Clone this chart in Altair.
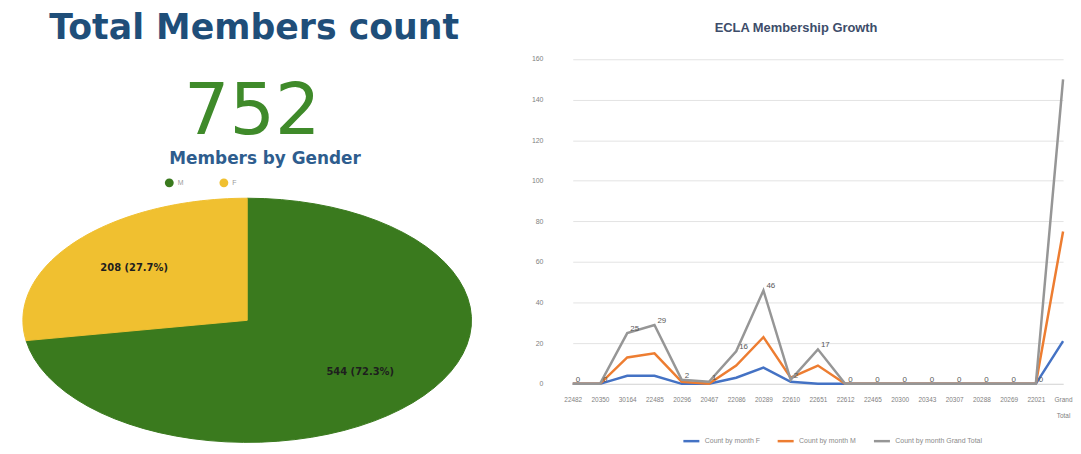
import altair as alt
import pandas as pd

# ---------------- data ----------------
genders = ["M", "F"]
gender_counts = [544, 208]
gender_colors = ["#3a7a1e", "#f0c030"]

months = ["22482", "20350", "30164", "22485", "20296", "20467", "22086", "20289",
          "22610", "22651", "22612", "22465", "20300", "20343", "20307", "20288",
          "20269", "22021", "Grand Total"]
count_f = [0, 0, 4, 4, 0, 0, 3, 8, 1, 0, 0, 0, 0, 0, 0, 0, 0, 0, 21]
count_m = [0, 0, 13, 15, 1, 0, 9, 23, 3, 9, 0, 0, 0, 0, 0, 0, 0, 0, 75]
count_total = [0, 0, 25, 29, 2, 1, 16, 46, 2, 17, 0, 0, 0, 0, 0, 0, 0, 0, 150]
series_names = ["Count by month F", "Count by month M", "Count by month Grand Total"]
series_colors = ["#4472c4", "#ed7d31", "#969696"]
y_ticks = [0, 20, 40, 60, 80, 100, 120, 140, 160]

# ---------------- left panel ----------------
W_L, H_L = 520, 438
pie_df = pd.DataFrame({"gender": genders, "count": gender_counts,
                       "idx": list(range(len(genders)))})

xs = alt.Scale(domain=[-1, 1], range=[15, 467], nice=False, zero=False)
ys = alt.Scale(domain=[-1, 1], range=[436, 190], nice=False, zero=False)
fill_scale = alt.Scale(domain=genders, range=gender_colors)

pie_base = (
    alt.Chart(pie_df)
    .transform_joinaggregate(total="sum(count)")
    .transform_window(cum="sum(count)", sort=[alt.SortField("idx", order="ascending")],
                      frame=[None, 0])
    .transform_calculate(f0="(datum.cum - datum.count) / datum.total",
                         f1="datum.cum / datum.total")
)

wedges = (
    pie_base
    .transform_calculate(k="sequence(0, 62)")
    .transform_flatten(["k"])
    .transform_calculate(
        a="(datum.k == 0 || datum.k == 61) ? 0 : 2*PI*(datum.f0 + (datum.f1 - datum.f0)*(datum.k-1)/59)",
        r="(datum.k == 0 || datum.k == 61) ? 0 : 1",
    )
    .transform_calculate(px="datum.r*sin(datum.a)", py="datum.r*cos(datum.a)")
    .mark_line(strokeWidth=1)
    .encode(
        x=alt.X("px:Q", scale=xs, axis=None),
        y=alt.Y("py:Q", scale=ys, axis=None),
        order=alt.Order("k:Q"),
        detail="gender:N",
        fill=alt.Fill("gender:N", scale=fill_scale,
                      legend=alt.Legend(orient="none", legendX=158, legendY=170,
                                        direction="horizontal", title=None,
                                        symbolType="circle", symbolSize=80,
                                        symbolStrokeWidth=0, labelFontSize=7,
                                        labelColor="#9a9a9a", columnPadding=36)),
        stroke=alt.Stroke("gender:N", scale=fill_scale, legend=None),
    )
)

pie_labels = (
    pie_base
    .transform_calculate(
        m="PI*(datum.f0 + datum.f1)",
        lab="format(datum.count, 'd') + ' (' + format(datum.count/datum.total, '.1%') + ')'",
    )
    .transform_calculate(px="0.66*sin(datum.m)", py="0.66*cos(datum.m)")
    .mark_text(font="DejaVu Sans", fontWeight="bold", fontSize=10, color="#1e1e1e")
    .encode(x=alt.X("px:Q", scale=xs, axis=None),
            y=alt.Y("py:Q", scale=ys, axis=None),
            text="lab:N")
)

big_number = (
    alt.Chart(pie_df)
    .transform_aggregate(total="sum(count)")
    .mark_text(font="DejaVu Sans", fontSize=72, color="#3f8a2a", baseline="alphabetic")
    .encode(x=alt.value(246), y=alt.value(125), text="total:Q")
)

title_df = pd.DataFrame({"t": ["Total Members count"]})
main_title = alt.Chart(title_df).mark_text(
    font="DejaVu Sans", fontWeight="bold", fontSize=35, color="#1f4e79", baseline="alphabetic"
).encode(x=alt.value(248), y=alt.value(30), text="t:N")

sub_df = pd.DataFrame({"t": ["Members by Gender"]})
sub_title = alt.Chart(sub_df).mark_text(
    font="DejaVu Sans", fontWeight="bold", fontSize=17, color="#2e5d8e", baseline="alphabetic"
).encode(x=alt.value(259), y=alt.value(156), text="t:N")

left = alt.layer(wedges, pie_labels, big_number, main_title, sub_title).properties(
    width=W_L, height=H_L)

# ---------------- right panel ----------------
rows = []
for s, vals in zip(series_names, [count_f, count_m, count_total]):
    for mth, v in zip(months, vals):
        rows.append({"month": mth, "series": s, "value": v})
growth = pd.DataFrame(rows)

W_R, H_R = 518, 377
x_enc = alt.X("month:N", sort=months,
              scale=alt.Scale(type="point", range=[21, 515], padding=0),
              axis=alt.Axis(title=None, labelAngle=0, labelFontSize=6.5,
                            labelColor="#7f7f7f", ticks=False, domain=True,
                            domainColor="#d9d9d9", labelPadding=13,
                            labelLineHeight=16, labelOverlap=False, grid=False,
                            labelExpr="datum.label == 'Grand Total' ? ['Grand', 'Total'] : datum.label"))
y_enc = alt.Y("value:Q", scale=alt.Scale(domain=[0, 184.3], nice=False),
              axis=alt.Axis(title=None, values=y_ticks, labelFontSize=7,
                            labelColor="#7f7f7f", ticks=False, domain=False,
                            gridColor="#e3e3e3", labelPadding=9,
                            minExtent=20, maxExtent=20))

base = alt.Chart(growth).encode(x=x_enc, y=y_enc)

lines = base.mark_line().encode(
    color=alt.Color("series:N", sort=series_names,
                    scale=alt.Scale(domain=series_names, range=series_colors),
                    legend=alt.Legend(orient="none", legendX=131, legendY=425,
                                      direction="horizontal", title=None,
                                      symbolType="stroke", symbolStrokeWidth=2.5,
                                      symbolSize=260, labelFontSize=7,
                                      labelColor="#8a8a8a", columnPadding=12,
                                      labelLimit=200)),
    strokeWidth=alt.StrokeWidth("series:N",
                                scale=alt.Scale(domain=series_names, range=[2.5, 2.5, 1.3]),
                                legend=None),
)

gt_labels = (
    base.transform_filter(alt.datum.series == series_names[2])
    .transform_filter(alt.datum.month != months[-1])
    .mark_text(align="left", dx=3, dy=-4, fontSize=8, color="#595959")
    .encode(text="value:Q")
)

rt_df = pd.DataFrame({"t": ["ECLA Membership Growth"]})
right_title = alt.Chart(rt_df).mark_text(
    font="Liberation Sans Narrow, Liberation Sans, sans-serif",
    fontSize=13, fontWeight="bold", color="#3d4d6a"
).encode(x=alt.value(246), y=alt.value(19), text="t:N")

right = alt.layer(lines, gt_labels, right_title).properties(width=W_R, height=H_R)

chart = (
    alt.hconcat(left, right, spacing=7)
    .resolve_scale(x="independent", y="independent", color="independent",
                   fill="independent", stroke="independent", strokeWidth="independent")
    .resolve_legend(color="independent", fill="independent")
    .properties(padding=0, background="white")
    .configure_view(stroke=None)
)

chart.save("out.html", embed_options={"renderer": "svg", "actions": False})
